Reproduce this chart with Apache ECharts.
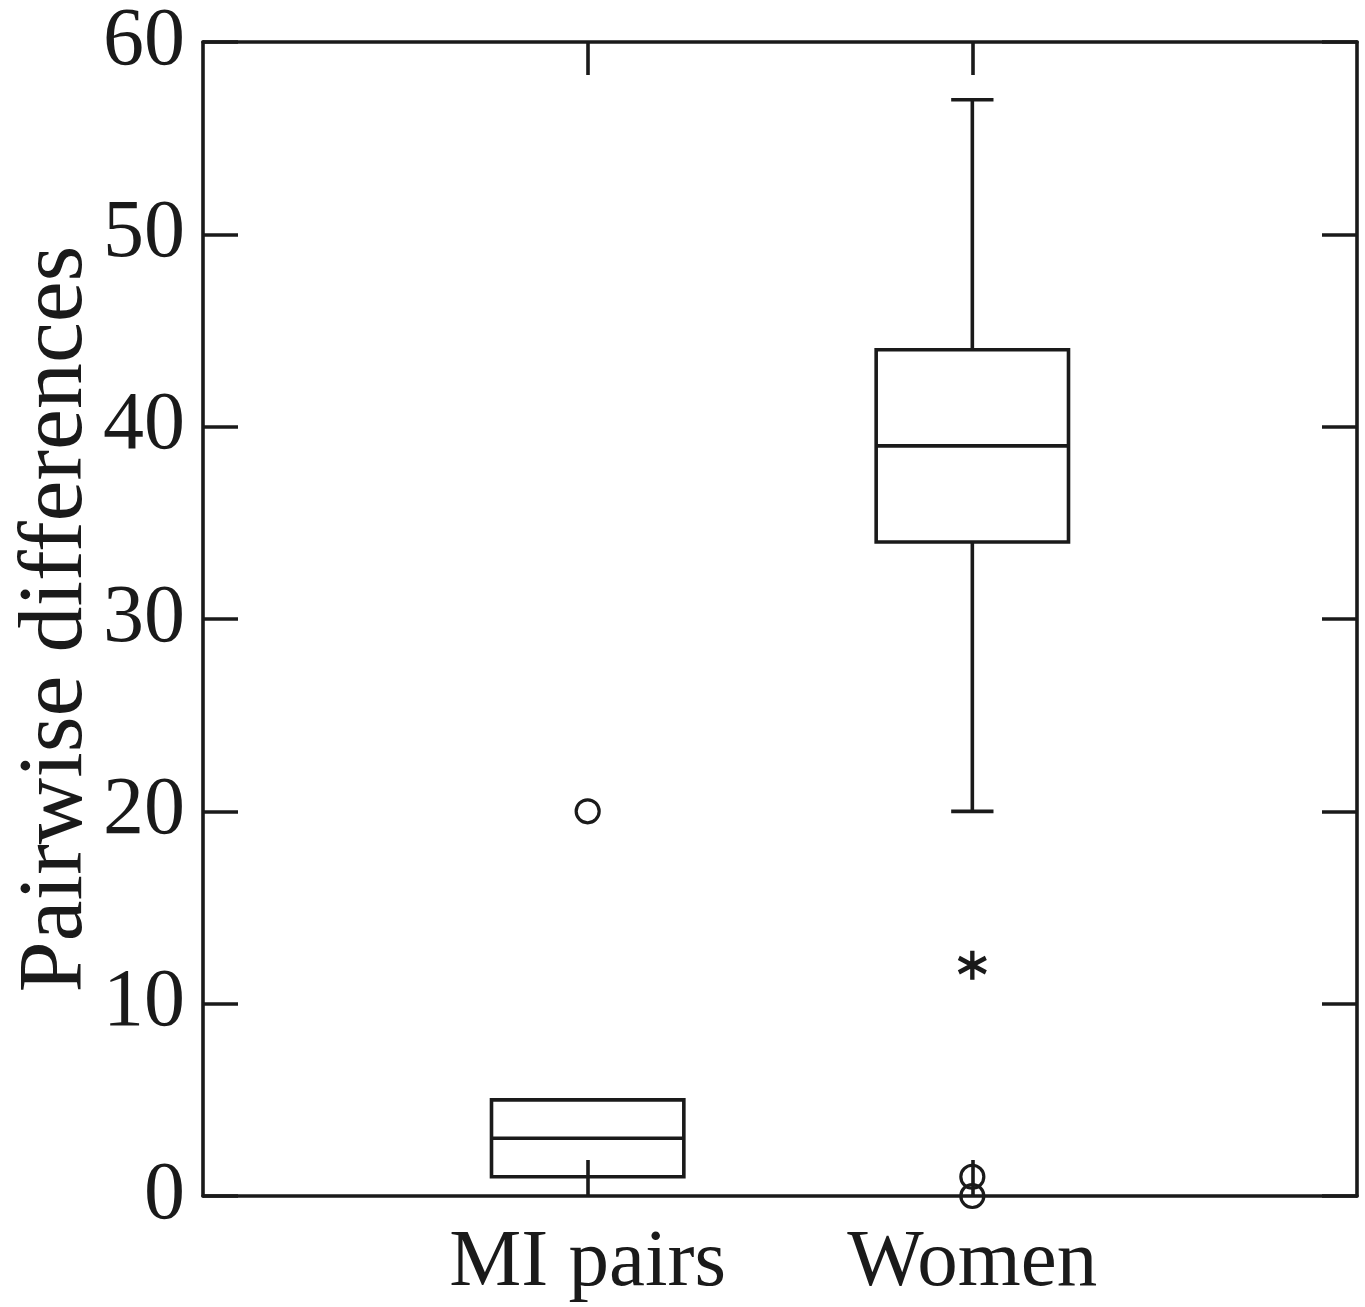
<!DOCTYPE html>
<html>
<head>
<meta charset="utf-8">
<script src="https://cdn.jsdelivr.net/npm/echarts@6/dist/echarts.min.js"></script>
<style>
html,body{margin:0;padding:0;background:#fff;}
#chart{width:1365px;height:1307px;}
</style>
</head>
<body>
<div id="chart"></div>
<script>
// ---- data ----
const categories = ['MI pairs', 'Women'];
// [lower whisker, Q1, median, Q3, upper whisker]
const boxLow = [1, 20];
const boxQ1 = [1, 34];
const boxMedian = [3, 39];
const boxQ3 = [5, 44];
const boxHigh = [5, 57];
// outliers (circles) and extreme values (asterisks)
const outlierCats = ['MI pairs', 'Women', 'Women'];
const outlierVals = [20, 1, 0];
const extremeCats = ['Women'];
const extremeVals = [12];
const yTicks = [0, 10, 20, 30, 40, 50, 60];

const axisCats = [''].concat(categories, ['']);
const catIndex = c => axisCats.indexOf(c);
const ink = '#1a1a1a';
const font = '"Liberation Serif", "Times New Roman", serif';
const lw = 3.6;

const boxSeriesData = categories.map((c, i) => [catIndex(c), boxLow[i], boxQ1[i], boxMedian[i], boxQ3[i], boxHigh[i]]);

function renderBox(params, api) {
  const x = api.value(0);
  const lo = api.value(1), q1 = api.value(2), med = api.value(3), q3 = api.value(4), hi = api.value(5);
  const band = api.size([1, 0])[0];
  const hw = band * 0.25;
  const cw = band * 0.055;
  const pQ1 = api.coord([x, q1]);
  const pQ3 = api.coord([x, q3]);
  const pMed = api.coord([x, med]);
  const pLo = api.coord([x, lo]);
  const pHi = api.coord([x, hi]);
  const cx = pQ1[0];
  const st = {stroke: ink, lineWidth: lw, fill: null};
  const children = [
    {type: 'rect', shape: {x: cx - hw, y: pQ3[1], width: hw * 2, height: pQ1[1] - pQ3[1]}, style: {stroke: ink, lineWidth: lw, fill: 'none'}},
    {type: 'line', shape: {x1: cx - hw, y1: pMed[1], x2: cx + hw, y2: pMed[1]}, style: st}
  ];
  if (hi > q3) {
    children.push({type: 'line', shape: {x1: cx, y1: pQ3[1], x2: cx, y2: pHi[1]}, style: st});
    children.push({type: 'line', shape: {x1: cx - cw, y1: pHi[1], x2: cx + cw, y2: pHi[1]}, style: st});
  }
  if (lo < q1) {
    children.push({type: 'line', shape: {x1: cx, y1: pQ1[1], x2: cx, y2: pLo[1]}, style: st});
    children.push({type: 'line', shape: {x1: cx - cw, y1: pLo[1], x2: cx + cw, y2: pLo[1]}, style: st});
  }
  return {type: 'group', children: children};
}

const chart = echarts.init(document.getElementById('chart'), null, {renderer: 'canvas'});
const tickShow = (idx) => idx === 1 || idx === 2;
chart.setOption({
  animation: false,
  backgroundColor: '#fff',
  grid: {left: 203, top: 42, right: 8, bottom: 111, containLabel: false, outerBoundsMode: 'none'},
  xAxis: [
    {
      type: 'category', data: axisCats, boundaryGap: false, position: 'bottom',
      axisLine: {onZero: false, lineStyle: {color: ink, width: lw}},
      axisTick: {inside: true, length: 36, interval: tickShow, lineStyle: {color: ink, width: lw}},
      axisLabel: {interval: 0, margin: 27, color: ink, fontFamily: font, fontSize: 81},
      splitLine: {show: false}
    },
    {
      type: 'category', data: axisCats, boundaryGap: false, position: 'top',
      axisLine: {onZero: false, lineStyle: {color: ink, width: lw}},
      axisTick: {inside: true, length: 33, interval: tickShow, lineStyle: {color: ink, width: lw}},
      axisLabel: {show: false},
      splitLine: {show: false}
    }
  ],
  yAxis: [
    {
      type: 'value', min: 0, max: 60, interval: 10, position: 'left',
      name: 'Pairwise differences', nameLocation: 'middle', nameGap: 100, nameMoveOverlap: false,
      nameTextStyle: {color: ink, fontFamily: font, fontSize: 92},
      axisLine: {show: true, onZero: false, lineStyle: {color: ink, width: lw}},
      axisTick: {show: true, inside: true, length: 35, lineStyle: {color: ink, width: lw}},
      axisLabel: {margin: 18, color: ink, fontFamily: font, fontSize: 82,
        formatter: v => yTicks.indexOf(v) >= 0 ? String(v) : ''},
      splitLine: {show: false}
    },
    {
      type: 'value', min: 0, max: 60, interval: 10, position: 'right',
      axisLine: {show: true, onZero: false, lineStyle: {color: ink, width: lw}},
      axisTick: {show: true, inside: true, length: 35, lineStyle: {color: ink, width: lw}},
      axisLabel: {show: false},
      splitLine: {show: false}
    }
  ],
  series: [
    {
      type: 'custom', xAxisIndex: 0, yAxisIndex: 0,
      renderItem: renderBox,
      data: boxSeriesData,
      encode: {x: 0, y: [1, 2, 3, 4, 5]},
      z: 3
    },
    {
      type: 'scatter', xAxisIndex: 0, yAxisIndex: 0,
      symbol: 'circle', symbolSize: 23,
      itemStyle: {color: 'rgba(255,255,255,0)', borderColor: ink, borderWidth: 3.2, opacity: 1},
      data: outlierCats.map((c, i) => [catIndex(c), outlierVals[i]]),
      z: 4
    },
    {
      type: 'scatter', xAxisIndex: 0, yAxisIndex: 0,
      symbol: 'path://M0,-15L0,15M-13,-7.5L13,7.5M-13,7.5L13,-7.5',
      symbolSize: [27, 29],
      itemStyle: {color: 'none', borderColor: ink, borderWidth: 4.5, opacity: 1},
      data: extremeCats.map((c, i) => [catIndex(c), extremeVals[i]]),
      z: 4
    }
  ]
});
</script>
</body>
</html>
